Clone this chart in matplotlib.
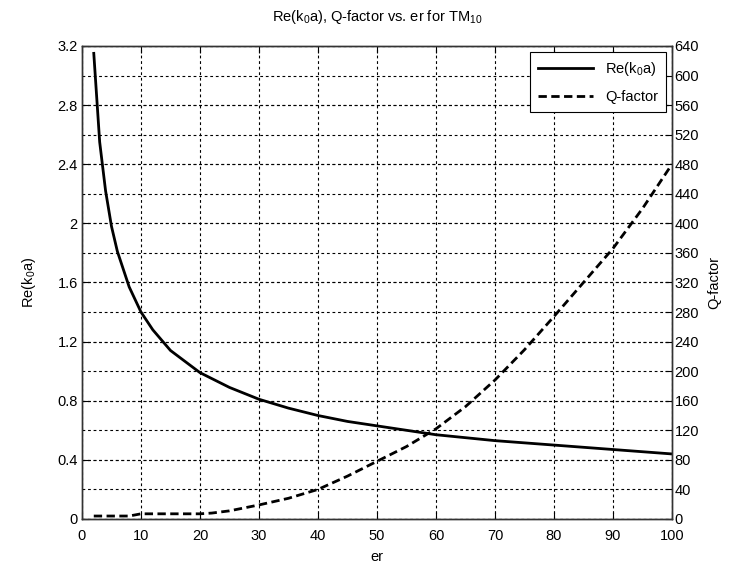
import matplotlib
matplotlib.use("Agg")
import matplotlib.pyplot as plt
import numpy as np

plt.rcParams['font.family'] = ['Liberation Sans Narrow', 'Liberation Sans', 'DejaVu Sans']
plt.rcParams['mathtext.default'] = 'regular'

# Relative permittivity samples and the two computed quantities
er_re = [2, 3, 4, 5, 6, 8, 10, 12, 15, 20, 25, 30, 35, 40, 45, 50, 55, 60, 70, 80, 90, 100]
re_k0a = [3.15, 2.55, 2.22, 1.98, 1.81, 1.57, 1.40, 1.28, 1.14, 0.99, 0.89, 0.81, 0.75,
          0.70, 0.66, 0.63, 0.60, 0.57, 0.53, 0.50, 0.47, 0.44]

er_q = [2, 4, 6, 8, 10, 12, 14, 16, 18, 20, 22, 25, 30, 35, 40, 45, 50, 55, 60, 65, 70,
        75, 80, 85, 90, 95, 100]
q_factor = [4, 4, 4, 4, 7, 7, 7, 7, 7, 7, 8, 11, 19, 28, 40, 58, 78, 98, 122, 152, 188,
            229, 274, 320, 366, 420, 480]

x_ticks = np.arange(0, 101, 10)
left_ticks = np.arange(0, 3.21, 0.4)
right_ticks = np.arange(0, 641, 40)

fig = plt.figure(figsize=(7.30, 5.69), dpi=100)
ax1 = fig.add_axes([0.1123, 0.0879, 0.8082, 0.8313])
ax2 = ax1.twinx()

fs = 10.5
l1, = ax1.plot(er_re, re_k0a, color='black', lw=2.0, solid_joinstyle='miter')
l2, = ax2.plot(er_q, q_factor, color='black', lw=2.0, dashes=(3, 1.6))

ax1.set_xlim(0, 100)
ax1.set_ylim(0, 3.2)
ax2.set_ylim(0, 640)
ax1.set_xticks(x_ticks)
ax1.set_yticks(left_ticks)
ax2.set_yticks(right_ticks)
ax1.set_xticklabels([f"{v:g}" for v in x_ticks], fontsize=fs)
ax1.set_yticklabels([f"{v:g}" for v in np.round(left_ticks, 1)], fontsize=fs)
ax2.set_yticklabels([f"{v:g}" for v in right_ticks], fontsize=fs)

grid_kw = dict(color='black', lw=0.8, dashes=(2.5, 2.5))
ax1.grid(True, axis='x', **grid_kw)
ax2.grid(True, axis='y', **grid_kw)
ax1.grid(True, axis='y', **grid_kw)
ax1.set_axisbelow(True)
ax2.set_axisbelow(True)

for ax in (ax1, ax2):
    for sp in ax.spines.values():
        sp.set_color('#333333')
        sp.set_linewidth(1.0)
ax1.tick_params(axis='x', direction='in', top=True, length=5, width=0.8, pad=7)
ax1.tick_params(axis='y', direction='in', length=5, width=0.8, pad=3)
ax2.tick_params(axis='y', direction='in', length=5, width=0.8, pad=2)

ax1.set_xlabel('er', fontsize=fs, labelpad=5)
ax1.set_ylabel('Re(k$_0$a)', fontsize=fs, labelpad=14)
ax2.set_ylabel('Q-factor', fontsize=fs, labelpad=6)
ax1.set_title('Re(k$_0$a), Q-factor vs. er for TM$_{10}$', fontsize=fs, pad=18)

leg = ax2.legend([l1, l2], ['Re(k$_0$a)', 'Q-factor'], loc='upper right',
                 fontsize=fs, fancybox=False, framealpha=1, edgecolor='black',
                 handlelength=3.8, borderaxespad=0.4, labelspacing=0.85,
                 borderpad=0.55)
leg.get_frame().set_linewidth(0.8)

fig.savefig('out.png', dpi=100, facecolor='white')
